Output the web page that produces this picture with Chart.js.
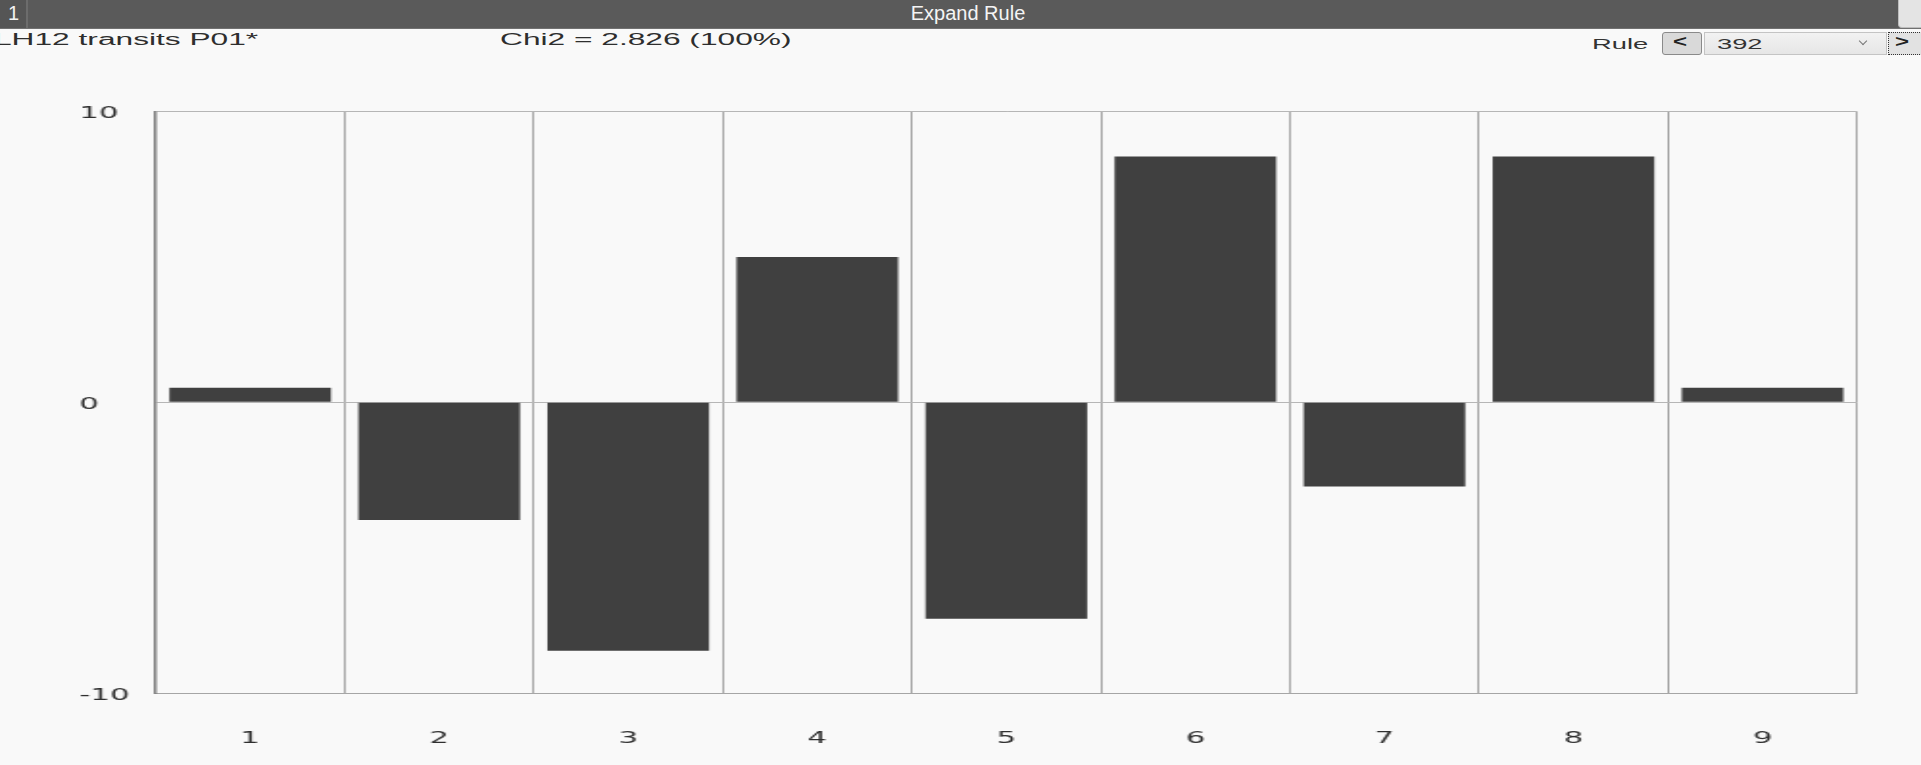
<!DOCTYPE html>
<html><head><meta charset="utf-8">
<script src="https://cdn.jsdelivr.net/npm/chart.js@4.4.1/dist/chart.umd.min.js"></script>
<style>
html,body{margin:0;padding:0;width:1921px;height:765px;overflow:hidden;background:#f9f9f9;font-family:"Liberation Sans",Arial,sans-serif;}
.abs{position:absolute;white-space:nowrap;}
#hdr{left:0;top:0;width:1921px;height:28px;background:#5a5a5a;border-bottom:1px solid #707070;}
#tab{left:0;top:0;width:26px;height:28px;background:#555;border-right:2px solid #6c6c6c;}
#tabtxt{left:8px;top:3px;font-family:"Liberation Sans Narrow","Liberation Sans",Arial,sans-serif;font-size:20px;line-height:20px;color:#f2f2f2;}
#title{left:0;width:1936px;text-align:center;top:3px;font-family:"Liberation Sans Narrow","Liberation Sans",Arial,sans-serif;font-size:20px;line-height:20px;color:#f4f4f4;}
#corner{left:1898px;top:0;width:23px;height:27px;background:#e4e4e4;border-left:1px solid #bdbdbd;border-bottom:1px solid #bdbdbd;border-bottom-left-radius:4px;}
.st{font-size:16px;line-height:16px;color:#2e2e2e;transform-origin:0 0;transform:scaleX(1.98);}
#lbl1{left:-6px;top:31.5px;}
#lbl2{left:500px;top:31.5px;}
#rule{left:1592px;top:36.3px;font-size:15px;line-height:15px;color:#333;transform-origin:0 0;transform:scaleX(1.82);}
#prev{left:1662px;top:32px;width:38px;height:21px;background:#d9d9d9;border:1px solid #8a8a8a;border-radius:3px;}
#prevg{left:1673px;top:33px;font-size:16px;line-height:18px;font-weight:bold;color:#222;transform-origin:0 0;transform:scaleX(1.5);}
#sel{left:1704px;top:32px;width:181px;height:21px;background:linear-gradient(#f2f2f2,#e6e6e6);border:1px solid #c4c4c4;}
#selv{left:1717px;top:36.3px;font-size:15px;line-height:15px;color:#333;transform-origin:0 0;transform:scaleX(1.82);}
#chev{left:1860px;top:38px;width:5px;height:5px;border-right:1.5px solid #777;border-bottom:1.5px solid #777;transform:rotate(45deg);}
#next{left:1888px;top:32px;width:40px;height:21px;background:#e2e2e2;border:1px dotted #333;}
#nextg{left:1895px;top:33px;font-size:16px;line-height:18px;font-weight:bold;color:#222;transform-origin:0 0;transform:scaleX(1.5);}
#c{position:absolute;left:0;top:60px;transform-origin:0 0;transform:scaleX(1.921);}
</style>
</head><body>
<div class="abs" id="hdr"></div>
<div class="abs" id="tab"></div>
<div class="abs" id="tabtxt">1</div>
<div class="abs" id="title">Expand Rule</div>
<div class="abs" id="corner"></div>
<div class="abs st" id="lbl1">LH12 transits P01*</div>
<div class="abs st" id="lbl2">Chi2 = 2.826 (100%)</div>
<div class="abs" id="rule">Rule</div>
<div class="abs" id="prev"></div>
<div class="abs" id="prevg">&lt;</div>
<div class="abs" id="sel"></div>
<div class="abs" id="selv">392</div>
<div class="abs" id="chev"></div>
<div class="abs" id="next"></div>
<div class="abs" id="nextg">&gt;</div>
<canvas id="c" width="1000" height="705" style="width:1000px;height:705px;"></canvas>
<script>
const categories = ['1','2','3','4','5','6','7','8','9'];
const values = [0.5, -4.05, -8.55, 5.0, -7.45, 8.45, -2.9, 8.45, 0.5];
const yTickValues = [-10, 0, 10];

const tickFont = {family: '"DejaVu Sans", sans-serif', size: 16, weight: 'normal'};

new Chart(document.getElementById('c'), {
  type: 'bar',
  data: {
    labels: categories,
    datasets: [{
      data: values,
      backgroundColor: '#404040',
      borderWidth: 0,
      barPercentage: 0.855,
      categoryPercentage: 1.0
    }]
  },
  options: {
    responsive: false,
    devicePixelRatio: 1,
    animation: false,
    layout: {padding: {left: 41.3, right: 33.3, top: 51.5, bottom: 0}},
    plugins: {legend: {display: false}, tooltip: {enabled: false}},
    scales: {
      x: {
        grid: {color: '#a6a6a6', lineWidth: 1, drawTicks: false, offset: true},
        border: {color: '#a6a6a6', width: 1},
        ticks: {font: tickFont, color: '#2f2f2f', padding: 36, maxRotation: 0},
        afterFit: s => { s.height = 72; }
      },
      y: {
        min: -10, max: 10,
        afterBuildTicks: s => { s.ticks = yTickValues.map(v => ({value: v})); },
        grid: {color: '#b6b6b6', lineWidth: 1, drawTicks: false},
        border: {color: '#7c7c7c', width: 1.5},
        ticks: {font: tickFont, color: '#2f2f2f', crossAlign: 'far', padding: 0, labelOffset: 2.5},
        afterFit: s => { s.width = 39.7; }
      }
    }
  }
});
</script>
</body></html>
